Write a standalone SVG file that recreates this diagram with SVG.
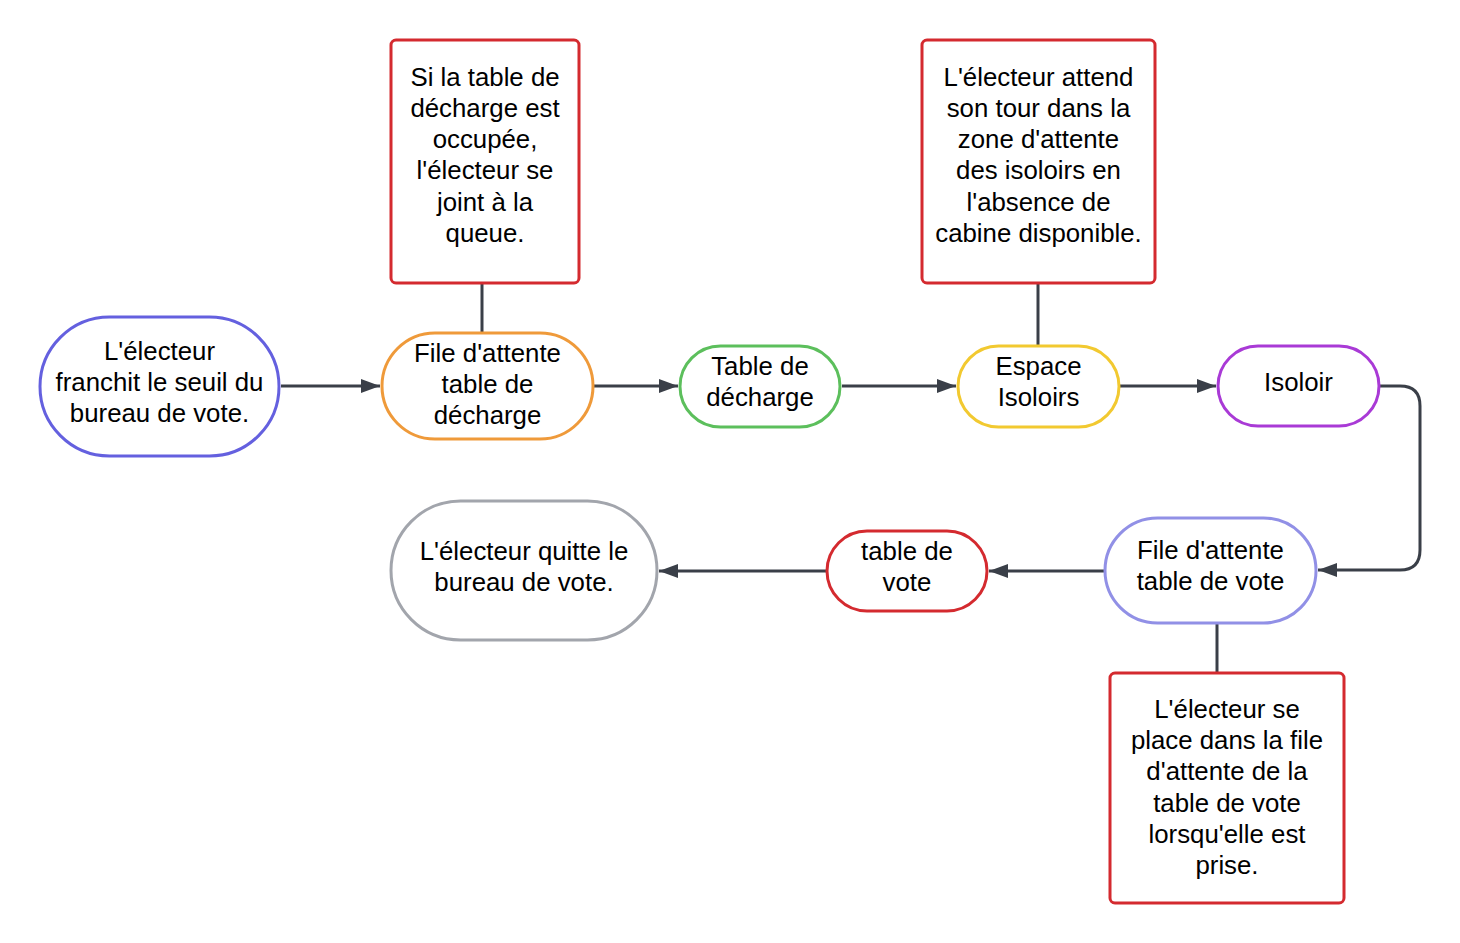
<svg xmlns="http://www.w3.org/2000/svg" width="1460" height="943" viewBox="0 0 1460 943">
<defs>
<style>
.n{fill:#ffffff;stroke-width:3}
.t{font-family:"Liberation Sans",Arial,sans-serif;font-size:25.8px;fill:#000000;text-anchor:middle;dominant-baseline:central}
.c{fill:none;stroke:#3a3f48;stroke-width:3}
</style>
<marker id="ah" markerUnits="userSpaceOnUse" markerWidth="20" markerHeight="16" viewBox="0 0 20 16" refX="19" refY="8" orient="auto">
<path d="M0,1 L19,8 L0,15 Z" fill="#3a3f48"/>
</marker>
</defs>
<rect width="1460" height="943" fill="#ffffff"/>
<g id="connectors">
<line class="c" x1="281" y1="386" x2="380" y2="386" marker-end="url(#ah)"/>
<line class="c" x1="594" y1="386" x2="678" y2="386" marker-end="url(#ah)"/>
<line class="c" x1="842" y1="386" x2="956" y2="386" marker-end="url(#ah)"/>
<line class="c" x1="1120" y1="386" x2="1216" y2="386" marker-end="url(#ah)"/>
<path class="c" d="M1380,386 H1400 Q1420,386 1420,406 V550 Q1420,570 1400,570 H1318" marker-end="url(#ah)"/>
<line class="c" x1="1104" y1="571" x2="989" y2="571" marker-end="url(#ah)"/>
<line class="c" x1="826" y1="571" x2="659" y2="571" marker-end="url(#ah)"/>
<line class="c" x1="482" y1="283" x2="482" y2="333"/>
<line class="c" x1="1038" y1="283" x2="1038" y2="346"/>
<line class="c" x1="1217" y1="623" x2="1217" y2="673"/>
</g>
<g id="n1">
<rect class="n" x="40" y="317" width="239" height="139" rx="69.5" stroke="#6460df"/>
<text class="t"><tspan x="159.5" y="351">L'électeur</tspan><tspan x="159.5" y="382">franchit le seuil du</tspan><tspan x="159.5" y="413">bureau de vote.</tspan></text>
</g>
<g id="n2">
<rect class="n" x="382" y="333" width="211" height="106" rx="53" stroke="#ef9a3a"/>
<text class="t"><tspan x="487.5" y="353">File d'attente</tspan><tspan x="487.5" y="384">table de</tspan><tspan x="487.5" y="415">décharge</tspan></text>
</g>
<g id="note1">
<rect class="n" x="391" y="40" width="188" height="243" rx="5" stroke="#d42a2f"/>
<text class="t"><tspan x="485" y="77">Si la table de</tspan><tspan x="485" y="108">décharge est</tspan><tspan x="485" y="139">occupée,</tspan><tspan x="485" y="170">l'électeur se</tspan><tspan x="485" y="202">joint à la</tspan><tspan x="485" y="233">queue.</tspan></text>
</g>
<g id="n3">
<rect class="n" x="680" y="346" width="160" height="81" rx="40.5" stroke="#5cbf5c"/>
<text class="t"><tspan x="760" y="366">Table de</tspan><tspan x="760" y="397">décharge</tspan></text>
</g>
<g id="n4">
<rect class="n" x="958" y="346" width="161" height="81" rx="40.5" stroke="#f2c930"/>
<text class="t"><tspan x="1038.5" y="366">Espace</tspan><tspan x="1038.5" y="397">Isoloirs</tspan></text>
</g>
<g id="note2">
<rect class="n" x="922" y="40" width="233" height="243" rx="5" stroke="#d42a2f"/>
<text class="t"><tspan x="1038.5" y="77">L'électeur attend</tspan><tspan x="1038.5" y="108">son tour dans la</tspan><tspan x="1038.5" y="139">zone d'attente</tspan><tspan x="1038.5" y="170">des isoloirs en</tspan><tspan x="1038.5" y="202">l'absence de</tspan><tspan x="1038.5" y="233">cabine disponible.</tspan></text>
</g>
<g id="n5">
<rect class="n" x="1218" y="346" width="161" height="80" rx="40" stroke="#a93ad6"/>
<text class="t" x="1298.5" y="382">Isoloir</text>
</g>
<g id="n6">
<rect class="n" x="1105" y="518" width="211" height="105" rx="52.5" stroke="#9190e6"/>
<text class="t"><tspan x="1210.5" y="550">File d'attente</tspan><tspan x="1210.5" y="581">table de vote</tspan></text>
</g>
<g id="note3">
<rect class="n" x="1110" y="673" width="234" height="230" rx="5" stroke="#d42a2f"/>
<text class="t"><tspan x="1227" y="709">L'électeur se</tspan><tspan x="1227" y="740">place dans la file</tspan><tspan x="1227" y="771">d'attente de la</tspan><tspan x="1227" y="803">table de vote</tspan><tspan x="1227" y="834">lorsqu'elle est</tspan><tspan x="1227" y="865">prise.</tspan></text>
</g>
<g id="n7">
<rect class="n" x="827" y="531" width="160" height="80" rx="40" stroke="#d42a2f"/>
<text class="t"><tspan x="907" y="551">table de</tspan><tspan x="907" y="582">vote</tspan></text>
</g>
<g id="n8">
<rect class="n" x="391" y="501" width="266" height="139" rx="69.5" stroke="#a2a5ac"/>
<text class="t"><tspan x="524" y="551">L'électeur quitte le</tspan><tspan x="524" y="582">bureau de vote.</tspan></text>
</g>
</svg>
